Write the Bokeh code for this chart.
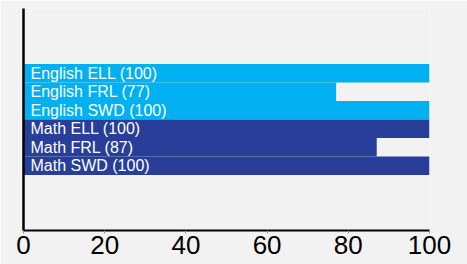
from bokeh.plotting import figure
from bokeh.models import ColumnDataSource, FixedTicker, Range1d
from bokeh.core.properties import value
from bokeh.embed import file_html
from bokeh.resources import INLINE

categories = ["English ELL", "English FRL", "English SWD", "Math ELL", "Math FRL", "Math SWD"]
values = [100, 77, 100, 100, 87, 100]
subjects = ["English", "English", "English", "Math", "Math", "Math"]
x_ticks = [0, 20, 40, 60, 80, 100]

colors = {"English": "#00b0f0", "Math": "#283e98"}

ypos = [3.5 + i for i in range(len(categories))]
src = ColumnDataSource(dict(
    y=ypos,
    v=values,
    zero=[0] * len(values),
    label=[f"{c} ({v})" for c, v in zip(categories, values)],
    color=[colors[s] for s in subjects],
))

p = figure(width=467, height=264, output_backend="svg", toolbar_location=None,
           x_range=Range1d(0, 100), y_range=Range1d(12, 0),
           min_border_left=23, min_border_right=38, min_border_top=8, min_border_bottom=34)
p.background_fill_color = "#f2f2f2"
p.border_fill_color = "#f2f2f2"
p.outline_line_color = None
p.xgrid.visible = False
p.ygrid.visible = False

p.hbar(y="y", left="zero", right="v", height=1.0, fill_color="color", line_color=None, source=src)
p.text(x="zero", y="y", text="label", source=src, x_offset=7, text_baseline="middle",
       text_align="left", text_color="white", text_font=value("Liberation Sans"),
       text_font_size="16px")

p.xaxis.ticker = FixedTicker(ticks=x_ticks)
p.xaxis.axis_line_color = "black"
p.xaxis.axis_line_width = 2
p.xaxis.major_tick_line_color = "#909090"
p.xaxis.major_tick_out = 3
p.xaxis.major_tick_in = 0
p.xaxis.minor_tick_line_color = None
p.xaxis.major_label_standoff = 2
p.xaxis.major_label_text_font = "Liberation Sans"
p.xaxis.major_label_text_font_size = "26px"
p.xaxis.major_label_text_color = "black"

p.yaxis.ticker = FixedTicker(ticks=[])
p.yaxis.axis_line_color = "black"
p.yaxis.axis_line_width = 2.5
p.yaxis.major_tick_line_color = None
p.yaxis.minor_tick_line_color = None
p.yaxis.major_label_text_font_size = "0px"

open("out.html", "w").write(file_html(p, INLINE))
